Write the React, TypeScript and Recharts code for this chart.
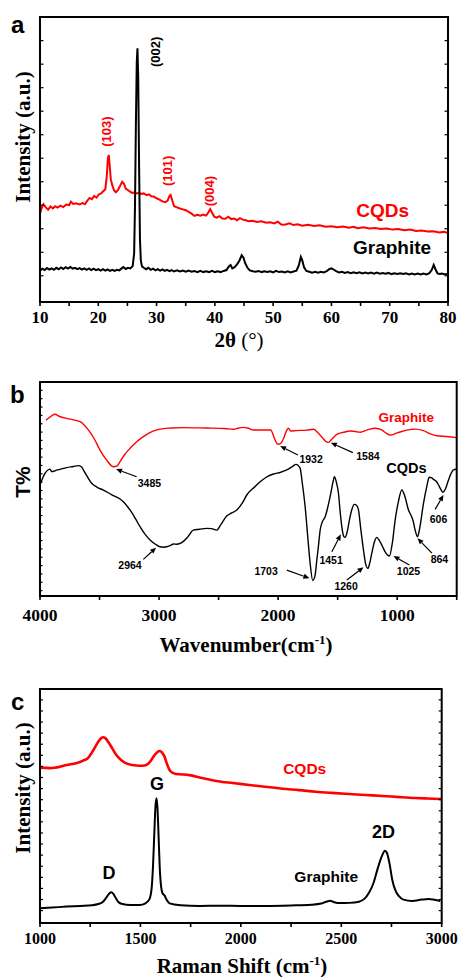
import React from 'react';
import { LineChart, Line, XAxis, YAxis, ReferenceLine, ReferenceDot } from 'recharts';

const SERIF = '"Liberation Serif", "Times New Roman", serif';
const SANS = '"Liberation Sans", Arial, sans-serif';
const RED = '#ff0000';

// ---------- Panel a: XRD ----------
const xrdGraphite: [number, number][] = [
  [10, 11.0], [10.4, 11.7], [10.8, 11.2], [11.2, 11.9], [11.6, 11.4], [12, 11.8], [12.4, 11.3], [12.8, 12.0], [13.2, 11.5], [13.6, 12.1],
  [14, 11.6], [14.4, 12.2], [14.8, 11.7], [15.2, 12.3], [15.6, 11.7], [16, 12.0], [16.4, 11.5], [16.8, 11.9], [17.2, 11.4], [17.6, 11.8],
  [18, 11.3], [18.4, 11.8], [18.8, 11.2], [19.2, 11.7], [19.6, 11.2], [20, 11.5], [20.4, 11.0], [20.8, 11.5], [21.2, 11.0], [21.6, 11.4],
  [22, 10.9], [22.4, 11.3], [22.8, 10.9], [23.2, 11.3], [23.6, 11.1], [24, 11.8], [24.3, 12.3], [24.7, 11.6], [25.1, 12.0], [25.5, 11.8],
  [25.9, 12.6], [26.15, 17], [26.3, 34], [26.45, 62], [26.6, 84], [26.72, 89], [26.85, 79], [27.0, 48], [27.15, 22], [27.3, 14.5],
  [27.5, 12.5], [27.8, 12.0], [28.2, 11.5], [28.6, 12.0], [29, 11.3], [29.4, 11.7], [29.8, 11.1], [30.2, 11.5], [30.6, 11.0], [31, 11.4],
  [31.4, 10.9], [31.8, 11.3], [32.2, 10.8], [32.6, 11.2], [33, 10.7], [33.5, 11.1], [34, 10.7], [34.5, 11.0], [35, 10.6], [35.5, 11.0],
  [36, 10.6], [36.5, 10.9], [37, 10.5], [37.5, 10.9], [38, 10.5], [38.5, 10.8], [39, 10.5], [39.5, 10.9], [40, 10.5], [40.5, 10.8],
  [41, 10.5], [41.5, 10.9], [42, 11.2], [42.4, 12.5], [42.7, 13.0], [43.0, 11.8], [43.4, 12.2], [43.8, 13.2], [44.2, 14.5], [44.6, 16.4],
  [44.9, 15.6], [45.2, 13.6], [45.6, 12.0], [46, 11.1], [46.5, 10.8], [47, 10.6], [47.5, 10.9], [48, 10.5], [48.5, 10.8], [49, 10.5],
  [49.5, 10.8], [50, 10.4], [50.5, 10.9], [51, 10.5], [51.5, 10.7], [52, 10.4], [52.5, 10.8], [53, 10.4], [53.5, 10.7], [54, 11.0],
  [54.4, 12.8], [54.75, 15.8], [55.0, 14.6], [55.3, 12.2], [55.7, 10.9], [56.2, 10.6], [56.7, 10.3], [57.2, 10.6], [57.7, 10.3], [58.2, 10.6],
  [58.7, 10.4], [59.2, 10.8], [59.6, 11.5], [60, 11.8], [60.4, 11.4], [60.8, 10.8], [61.3, 10.4], [61.8, 10.6], [62.3, 10.2], [62.8, 10.5],
  [63.3, 10.1], [63.8, 10.4], [64.3, 10.1], [64.8, 10.4], [65.3, 10.0], [65.8, 10.3], [66.3, 10.0], [66.8, 10.3], [67.3, 9.9], [67.8, 10.3],
  [68.3, 9.9], [68.8, 10.2], [69.3, 9.9], [69.8, 10.2], [70.3, 9.8], [70.8, 10.1], [71.3, 9.8], [71.8, 10.1], [72.3, 9.8], [72.8, 10.1],
  [73.3, 9.7], [73.8, 10.0], [74.3, 9.7], [74.8, 10.0], [75.3, 9.7], [75.8, 10.0], [76.3, 9.7], [76.8, 10.1], [77.2, 11.2], [77.55, 13.0],
  [77.85, 11.5], [78.2, 10.0], [78.6, 9.8], [79, 10.0], [79.4, 9.7], [80, 9.8],
];
const xrdCQDs: [number, number][] = [
  [10, 31], [10.3, 33], [10.6, 34.3], [11, 33.2], [11.4, 32.4], [11.8, 33.5], [12.2, 32.8], [12.6, 33.6], [13, 33.1], [13.5, 33.8],
  [14, 33.3], [14.5, 34.2], [15, 34], [15.3, 35.2], [15.7, 34.4], [16.2, 34.6], [16.8, 34.2], [17.3, 34.8], [17.7, 34.3], [18.1, 35.5],
  [18.5, 36.5], [18.9, 36.1], [19.3, 37.2], [19.7, 36.6], [20.1, 37.8], [20.5, 38.1], [20.9, 39], [21.2, 39.5], [21.45, 44], [21.65, 50.5],
  [21.8, 51.6], [21.95, 48], [22.15, 43], [22.4, 41], [22.7, 39.2], [23, 38.5], [23.4, 39.3], [23.8, 41], [24.1, 42.2], [24.4, 41.5],
  [24.7, 39.8], [25, 39.4], [25.4, 38.8], [25.8, 38.3], [26.2, 38.4], [26.6, 38.1], [27, 38.3], [27.4, 37.9], [27.8, 38.1], [28.3, 37.5],
  [28.7, 37.8], [29.1, 37.1], [29.5, 37.0], [30, 36.4], [30.5, 35.9], [31, 35.3], [31.5, 35], [31.9, 35.6], [32.2, 37.2], [32.4, 37.6],
  [32.7, 35.6], [33, 33.6], [33.5, 33.2], [34, 32.8], [34.5, 32.5], [35, 32.2], [35.5, 31.6], [36, 31], [36.5, 30.2], [37, 30.6],
  [37.5, 30.3], [38, 30.7], [38.5, 30.3], [38.9, 31.5], [39.2, 32.6], [39.5, 31.4], [39.9, 29.9], [40.3, 29.6], [40.8, 30.1], [41.3, 29.3],
  [41.8, 29.2], [42.3, 29.9], [42.8, 29.1], [43.3, 29.3], [43.8, 28.7], [44.3, 29.4], [44.8, 28.9], [45.3, 28.7], [45.8, 28.3], [46.5, 28.5],
  [47.2, 28.1], [48, 28.3], [48.8, 27.8], [49.5, 28], [50.2, 27.6], [50.8, 28.2], [51.4, 27.2], [52, 27.1], [52.8, 27.6], [53.5, 27],
  [54.2, 27.3], [55, 26.8], [56, 27.1], [57, 26.7], [58, 26.9], [59, 26.4], [60, 26.6], [61, 26.2], [62, 26.5], [63, 26.1],
  [63.8, 26.4], [64.5, 25.9], [65.5, 26.2], [66.5, 25.8], [67.5, 26], [68.5, 25.6], [69.5, 25.8], [70.5, 25.4], [71.5, 25.6], [72.5, 25.2],
  [73.5, 25.4], [74.5, 24.9], [75.5, 25.1], [76.5, 24.7], [77.5, 24.8], [78.5, 24.4], [79.3, 24.6], [80, 24.2],
];
const xrdXDomain = [10, 80];
const xrdXTicks = [10, 15, 20, 25, 30, 35, 40, 45, 50, 55, 60, 65, 70, 75, 80];
const xrdXLabels = [10, 20, 30, 40, 50, 60, 70, 80];
const xrdYTicks = [9.2, 17.45, 25.7, 33.95, 42.2, 50.45, 58.7, 66.95, 75.2, 83.45, 91.7];
const xrdPeakLabels = [
  { text: '(002)', x: 29.73, y: 87.8, red: false },
  { text: '(103)', x: 21.44, y: 59.8, red: true },
  { text: '(101)', x: 31.84, y: 46.0, red: true },
  { text: '(004)', x: 39.1, y: 38.9, red: true },
];
const xrdNames = [
  { text: 'CQDs', x: 68.8, y: 32.2, red: true },
  { text: 'Graphite', x: 70.4, y: 19.3, red: false },
];

// ---------- Panel b: FTIR ----------
const ftirGraphite: [number, number][] = [
  [3950, 82.2], [3920, 83.5], [3874, 84.9], [3840, 84.0], [3760, 82.8], [3664, 81.5], [3594, 77.6], [3540, 73], [3496, 68.2], [3440, 63.5],
  [3384, 60.4], [3350, 60.8], [3328, 62.8], [3290, 66], [3244, 69], [3190, 72], [3132, 74.5], [3060, 76.8], [2992, 78], [2900, 78.5],
  [2796, 78.7], [2600, 78.5], [2450, 78.3], [2376, 77.9], [2330, 78.5], [2292, 78.8], [2250, 78.4], [2208, 77.6], [2150, 77.6], [2062, 77.6],
  [2050, 76.5], [2030, 73.5], [2010, 71.3], [1997, 70.9], [1975, 71.5], [1955, 73.5], [1935, 76.5], [1913, 78.4], [1894, 77.1], [1850, 77.3],
  [1760, 77.5], [1703, 77.9], [1661, 76], [1620, 73.5], [1590, 71.9], [1577, 71.8], [1550, 73.2], [1507, 75.5], [1450, 76.5], [1395, 77.1],
  [1350, 76.9], [1311, 76.5], [1250, 77.6], [1185, 78.4], [1130, 77.6], [1090, 76], [1059, 75.2], [1000, 76.2], [920, 77.5], [849, 78],
  [780, 77.3], [720, 75.8], [667, 74.9], [583, 74.5], [500, 74],
];
const ftirCQDs: [number, number][] = [
  [3994, 52.7], [3975, 55.5], [3958, 57.3], [3930, 59], [3916, 59.3], [3902, 58.1], [3860, 58.8], [3776, 60], [3720, 60.5], [3678, 60.9],
  [3650, 60.3], [3636, 58.9], [3600, 55.5], [3566, 52.7], [3520, 50.8], [3468, 49.5], [3400, 47.4], [3328, 45.3], [3290, 43.5], [3244, 40.2],
  [3200, 36.3], [3160, 32.4], [3120, 29], [3076, 26.2], [3030, 24.2], [2992, 23], [2960, 22.8], [2936, 23], [2900, 23.8], [2880, 24.3],
  [2850, 24.2], [2810, 24.9], [2760, 27.5], [2712, 30.8], [2660, 31.2], [2600, 31.6], [2560, 31.5], [2516, 30.8], [2480, 33.5], [2432, 37.4],
  [2390, 38.8], [2347, 40.2], [2300, 43.5], [2263, 47.2], [2200, 50.8], [2151, 53.4], [2100, 55.5], [2039, 57], [1980, 57.8], [1927, 58.9],
  [1880, 60.5], [1849, 61.5], [1825, 60.6], [1815, 59.7], [1795, 52], [1773, 41.7], [1750, 27], [1731, 15.3], [1709, 7.2], [1690, 9.5],
  [1675, 16.8], [1660, 24], [1647, 30.8], [1630, 34.5], [1605, 37], [1585, 41], [1563, 46.4], [1540, 53], [1527, 55.7], [1510, 53],
  [1493, 48], [1480, 40], [1465, 32.4], [1450, 28], [1437, 27.4], [1420, 30], [1401, 35.5], [1380, 40.5], [1361, 42.8], [1340, 42.3],
  [1325, 40.2], [1305, 31], [1283, 21.5], [1265, 15], [1246, 12.9], [1230, 15.5], [1213, 20], [1190, 25.5], [1171, 27.4], [1150, 26],
  [1129, 23.8], [1100, 20.5], [1065, 18.7], [1040, 25], [1017, 35.5], [990, 44], [961, 49.5], [935, 46.5], [905, 40.2], [880, 37.3],
  [868, 35.5], [850, 31], [829, 27.7], [810, 32], [779, 43.3], [750, 51.5], [731, 55.5], [710, 55.2], [695, 54.5], [670, 53.5],
  [653, 51.9], [630, 49.5], [616, 48.5], [595, 50], [569, 54.2], [545, 57.5], [527, 58.9], [504, 59.2],
];
const ftirXDomain = [500, 4000];
const ftirXTicks = [4000, 3500, 3000, 2500, 2000, 1500, 1000, 500];
const ftirXLabels = [4000, 3000, 2000, 1000];
const ftirYTicks = [2.5, 6.4, 10.3, 14.2, 18.1, 22.0, 25.9, 29.8, 33.7, 37.6, 41.5, 45.4, 49.3, 53.2, 57.1, 61.0, 64.9, 68.8, 72.7, 76.6, 80.5, 84.4, 88.3, 92.2, 96.1];
const ftirPeakLabels = [
  { text: '3485', x: 3081, y: 52.7 }, { text: '2964', x: 3244, y: 14.5 }, { text: '1932', x: 1723, y: 63.9 },
  { text: '1584', x: 1246, y: 65.4 }, { text: '1703', x: 2101, y: 11.8 }, { text: '1451', x: 1555, y: 16.5 },
  { text: '1260', x: 1429, y: 4.8 }, { text: '1025', x: 905, y: 11.8 }, { text: '864', x: 645, y: 17.3 },
  { text: '606', x: 653, y: 36 },
];
const ftirArrows = [
  { x1: 3188, y1: 55.7, x2: 3361, y2: 59.3 }, { x1: 3132, y1: 17.1, x2: 3025, y2: 22.6 },
  { x1: 1834, y1: 65.9, x2: 1983, y2: 70.1 }, { x1: 1372, y1: 67, x2: 1557, y2: 71.6 },
  { x1: 1927, y1: 12.1, x2: 1737, y2: 8.3 }, { x1: 1549, y1: 20.7, x2: 1473, y2: 28.8 },
  { x1: 1423, y1: 7.5, x2: 1283, y2: 13.4 }, { x1: 897, y1: 14.5, x2: 1031, y2: 18.7 },
  { x1: 708, y1: 20, x2: 829, y2: 27 }, { x1: 681, y1: 40.5, x2: 611, y2: 47.2 },
];
const ftirNames = [
  { text: 'Graphite', x: 923, y: 83.8, red: true, size: 13.5 },
  { text: 'CQDs', x: 923, y: 60, red: false, size: 14.5 },
];

// ---------- Panel c: Raman ----------
const ramanCQDs: [number, number][] = [
  [1000, 66.4], [1050, 66.2], [1100, 66.8], [1132, 67.5], [1180, 68.3], [1215, 69.4], [1240, 70.6], [1256, 72.5], [1275, 75.3], [1290, 77.5],
  [1305, 79], [1314, 79.4], [1325, 79], [1339, 77.5], [1360, 74.6], [1380, 71.8], [1405, 69.6], [1430, 68.2], [1460, 67.5], [1496, 67.2],
  [1520, 67.3], [1537, 67.9], [1555, 69.8], [1571, 71.8], [1585, 73.1], [1596, 73.5], [1608, 72.8], [1620, 71.1], [1632, 68], [1645, 65.4],
  [1660, 64.2], [1678, 63.7], [1744, 63.2], [1800, 62.1], [1877, 60.7], [1960, 59.8], [2042, 59], [2120, 58.2], [2207, 57.4], [2290, 56.8],
  [2373, 56.1], [2450, 55.6], [2538, 55.1], [2620, 54.7], [2704, 54.3], [2790, 53.8], [2869, 53.4], [2930, 53.2], [3000, 53],
];
const ramanGraphite: [number, number][] = [
  [1000, 6.3], [1060, 6.6], [1132, 7], [1200, 7.3], [1260, 7.6], [1290, 8.1], [1314, 9.1], [1330, 10.8], [1345, 12.6], [1355, 13.1],
  [1365, 12.4], [1375, 11], [1390, 9], [1410, 8.1], [1450, 7.7], [1496, 7.7], [1525, 8.4], [1545, 10.2], [1556, 15], [1563, 25],
  [1569, 38], [1575, 50], [1580, 53.3], [1585, 49], [1590, 38], [1596, 24], [1603, 15.5], [1610, 12.7], [1620, 11.8], [1630, 10],
  [1645, 8.4], [1700, 7.6], [1794, 7.3], [1900, 7.4], [2000, 7.3], [2125, 7.3], [2250, 7.5], [2350, 7.8], [2400, 8.3], [2425, 9.1],
  [2445, 9.5], [2465, 8.9], [2490, 8.5], [2540, 8.6], [2588, 9.1], [2615, 10.3], [2638, 12.9], [2660, 17], [2679, 22.6], [2695, 27],
  [2704, 29], [2717, 30.9], [2727, 30], [2740, 25.5], [2754, 18.4], [2770, 13.8], [2787, 11.5], [2810, 10], [2853, 9.4], [2900, 10],
  [2936, 10.3], [2965, 9.9], [2993, 9.4],
];
const ramanXDomain = [1000, 3000];
const ramanXTicks = [1000, 1250, 1500, 1750, 2000, 2250, 2500, 2750, 3000];
const ramanXLabels = [1000, 1500, 2000, 2500, 3000];
const ramanYTicks = [5.3, 10.04, 14.78, 19.52, 24.26, 29.0, 33.74, 38.48, 43.22, 47.96, 52.7, 57.44, 62.18, 66.92, 71.66, 76.4, 81.14, 85.88, 90.62, 95.36];
const ramanLabels = [
  { text: 'CQDs', x: 2318, y: 66.2, red: true, size: 15.5 },
  { text: 'G', x: 1583, y: 59.8, red: false, size: 18 },
  { text: 'D', x: 1344, y: 21.5, red: false, size: 18 },
  { text: '2D', x: 2710, y: 39, red: false, size: 18 },
  { text: 'Graphite', x: 2425, y: 19.7, red: false, size: 15.5 },
];

const Y_DOMAIN = [0, 100];

// layout of the three plot boxes on the page (page pixels)
type Box = { left: number; top: number; right: number; bottom: number; chartTop: number; chartHeight: number };
const BOX_A: Box = { left: 40, top: 17, right: 448, bottom: 302, chartTop: 0, chartHeight: 330 };
const BOX_B: Box = { left: 40, top: 382, right: 456.7, bottom: 596, chartTop: 360, chartHeight: 266 };
const BOX_C: Box = { left: 40, top: 689, right: 441.7, bottom: 923, chartTop: 670, chartHeight: 281 };
const PAGE_W = 462;

const marginOf = (b: Box) => ({ top: b.top - b.chartTop, right: PAGE_W - b.right, bottom: 0, left: b.left - 1 });
const xAxisHeightOf = (b: Box) => b.chartTop + b.chartHeight - b.bottom;

const toPts = (arr: [number, number][]) => arr.map(([x, y]) => ({ x, y }));

const makeXTick = (labels: number[], len: number, dy: number, fontSize: number) => (props: any) => {
  const { x, y, payload } = props;
  const v = payload.value;
  return (
    <g>
      <line x1={x} y1={y} x2={x} y2={y + len} stroke="#000" strokeWidth={1.6} />
      {labels.includes(v) && (
        <text x={x} y={y + dy} textAnchor="middle" fontFamily={SERIF} fontWeight="bold" fontSize={fontSize} fill="#000">
          {v}
        </text>
      )}
    </g>
  );
};

const makeYTick = (dir: number, len: number) => (props: any) => (
  <line x1={props.x} y1={props.y} x2={props.x + dir * len} y2={props.y} stroke="#000" strokeWidth={1.2} />
);

const textShape = (text: string, color: string, size: number, rotate: boolean) => (p: any) => {
  const { cx, cy } = p;
  if (typeof cx !== 'number' || typeof cy !== 'number') return <g />;
  return (
    <text
      x={cx}
      y={cy}
      dy="0.36em"
      textAnchor="middle"
      fontFamily={SANS}
      fontWeight="bold"
      fontSize={size}
      fill={color}
      transform={rotate ? `rotate(-90, ${cx}, ${cy})` : undefined}
    >
      {text}
    </text>
  );
};

const ArrowShape = (p: any) => {
  const { x1, y1, x2, y2 } = p;
  if ([x1, y1, x2, y2].some((v) => typeof v !== 'number')) return <g />;
  const ang = Math.atan2(y2 - y1, x2 - x1);
  const L = 6;
  const W = 2.6;
  const bx = x2 - L * Math.cos(ang);
  const by = y2 - L * Math.sin(ang);
  const pts = `${x2},${y2} ${bx + W * Math.sin(ang)},${by - W * Math.cos(ang)} ${bx - W * Math.sin(ang)},${by + W * Math.cos(ang)}`;
  return (
    <g>
      <line x1={x1} y1={y1} x2={bx} y2={by} stroke="#000" strokeWidth={1.2} />
      <polygon points={pts} fill="#000" />
    </g>
  );
};

const axisLine = { stroke: '#000', strokeWidth: 2 };

// closed plot frame (top and right edges) with the inward ticks of the right edge
function Frame({ box, yTicks, tickLen }: { box: Box; yTicks?: number[]; tickLen: number }) {
  const yOf = (v: number) => box.bottom - ((v - Y_DOMAIN[0]) / (Y_DOMAIN[1] - Y_DOMAIN[0])) * (box.bottom - box.top);
  return (
    <g>
      <rect x={box.left} y={box.top} width={box.right - box.left} height={box.bottom - box.top}
        fill="none" stroke="#000" strokeWidth={2} />
      {(yTicks || []).map((t) => (
        <line key={t} x1={box.right} y1={yOf(t)} x2={box.right - tickLen} y2={yOf(t)} stroke="#000" strokeWidth={1.2} />
      ))}
    </g>
  );
}

function PanelA() {
  return (
    <LineChart width={PAGE_W} height={BOX_A.chartHeight} margin={marginOf(BOX_A)}>
      <XAxis type="number" dataKey="x" domain={xrdXDomain} ticks={xrdXTicks} interval={0} allowDataOverflow
        height={xAxisHeightOf(BOX_A)} tickSize={0} tickMargin={0} tickLine={false} axisLine={axisLine}
        tick={makeXTick(xrdXLabels, 4, 21.3, 17)} />
      <YAxis type="number" domain={Y_DOMAIN} ticks={xrdYTicks} interval={0} allowDataOverflow width={1}
        tickSize={0} tickMargin={0} tickLine={false} axisLine={axisLine} tick={makeYTick(1, 3.5)} />
      <Line data={toPts(xrdCQDs)} dataKey="y" type="linear" stroke={RED} strokeWidth={2} dot={false} isAnimationActive={false} />
      <Line data={toPts(xrdGraphite)} dataKey="y" type="linear" stroke="#000" strokeWidth={2} dot={false} isAnimationActive={false} />
      {xrdPeakLabels.map((l) => (
        <ReferenceDot key={l.text} x={l.x} y={l.y} r={0} ifOverflow="visible"
          shape={textShape(l.text, l.red ? RED : '#000', 13, true)} />
      ))}
      {xrdNames.map((l) => (
        <ReferenceDot key={l.text} x={l.x} y={l.y} r={0} ifOverflow="visible"
          shape={textShape(l.text, l.red ? RED : '#000', 19, false)} />
      ))}
    </LineChart>
  );
}

function PanelB() {
  return (
    <LineChart width={PAGE_W} height={BOX_B.chartHeight} margin={marginOf(BOX_B)}>
      <XAxis type="number" dataKey="x" domain={ftirXDomain} reversed ticks={ftirXTicks} interval={0} allowDataOverflow
        height={xAxisHeightOf(BOX_B)} tickSize={0} tickMargin={0} tickLine={false} axisLine={axisLine}
        tick={makeXTick(ftirXLabels, 4, 24.7, 17.5)} />
      <YAxis type="number" domain={Y_DOMAIN} ticks={ftirYTicks} interval={0} allowDataOverflow width={1}
        tickSize={0} tickMargin={0} tickLine={false} axisLine={axisLine} tick={makeYTick(1, 2.5)} />
      <Line data={toPts(ftirGraphite)} dataKey="y" type="monotone" stroke={RED} strokeWidth={1.4} dot={false} isAnimationActive={false} />
      <Line data={toPts(ftirCQDs)} dataKey="y" type="monotone" stroke="#000" strokeWidth={1.4} dot={false} isAnimationActive={false} />
      {ftirArrows.map((a, i) => (
        <ReferenceLine key={'a' + i} segment={[{ x: a.x1, y: a.y1 }, { x: a.x2, y: a.y2 }]} ifOverflow="visible" shape={ArrowShape} />
      ))}
      {ftirPeakLabels.map((l) => (
        <ReferenceDot key={l.text} x={l.x} y={l.y} r={0} ifOverflow="visible"
          shape={textShape(l.text, '#000', 10.5, false)} />
      ))}
      {ftirNames.map((l) => (
        <ReferenceDot key={l.text} x={l.x} y={l.y} r={0} ifOverflow="visible"
          shape={textShape(l.text, l.red ? RED : '#000', l.size, false)} />
      ))}
    </LineChart>
  );
}

function PanelC() {
  return (
    <LineChart width={PAGE_W} height={BOX_C.chartHeight} margin={marginOf(BOX_C)}>
      <XAxis type="number" dataKey="x" domain={ramanXDomain} ticks={ramanXTicks} interval={0} allowDataOverflow
        height={xAxisHeightOf(BOX_C)} tickSize={0} tickMargin={0} tickLine={false} axisLine={axisLine}
        tick={makeXTick(ramanXLabels, 4, 21.3, 16)} />
      <YAxis type="number" domain={Y_DOMAIN} ticks={ramanYTicks} interval={0} allowDataOverflow width={1}
        tickSize={0} tickMargin={0} tickLine={false} axisLine={axisLine} tick={makeYTick(1, 3)} />
      <Line data={toPts(ramanCQDs)} dataKey="y" type="monotone" stroke={RED} strokeWidth={2.6} dot={false} isAnimationActive={false} />
      <Line data={toPts(ramanGraphite)} dataKey="y" type="monotone" stroke="#000" strokeWidth={2} dot={false} isAnimationActive={false} />
      {ramanLabels.map((l) => (
        <ReferenceDot key={l.text} x={l.x} y={l.y} r={0} ifOverflow="visible"
          shape={textShape(l.text, l.red ? RED : '#000', l.size, false)} />
      ))}
    </LineChart>
  );
}

export default function App() {
  return (
    <div style={{ position: 'absolute', left: 0, top: 0, width: PAGE_W, height: 977, background: '#fff', overflow: 'hidden' }}>
      <div style={{ position: 'absolute', left: 0, top: BOX_A.chartTop }}><PanelA /></div>
      <div style={{ position: 'absolute', left: 0, top: BOX_B.chartTop }}><PanelB /></div>
      <div style={{ position: 'absolute', left: 0, top: BOX_C.chartTop }}><PanelC /></div>
      <svg width={PAGE_W} height={977} style={{ position: 'absolute', left: 0, top: 0, pointerEvents: 'none' }}>
        <Frame box={BOX_A} yTicks={xrdYTicks} tickLen={3.5} />
        <Frame box={BOX_B} tickLen={2.5} />
        <Frame box={BOX_C} yTicks={ramanYTicks} tickLen={3} />
        <g fontFamily={SANS} fontWeight="bold" fontSize={24} fill="#000">
          <text x={11} y={33}>a</text>
          <text x={10} y={403}>b</text>
          <text x={11} y={710}>c</text>
        </g>
        <g fontFamily={SERIF} fontWeight="bold" fontSize={21} fill="#000" textAnchor="middle">
          <text x={239} y={347}>2θ <tspan fontWeight="normal">(°)</tspan></text>
          <text x={246} y={652}>Wavenumber(cm<tspan fontSize={13} dy={-8}>-1</tspan><tspan dy={8}>)</tspan></text>
          <text x={242} y={973}>Raman Shift (cm<tspan fontSize={13} dy={-8}>-1</tspan><tspan dy={8}>)</tspan></text>
          <text x={22} y={137} dy="0.36em" transform="rotate(-90, 22, 137)">Intensity (a.u.)</text>
          <text x={22} y={788} dy="0.36em" transform="rotate(-90, 22, 788)">Intensity (a.u.)</text>
        </g>
        <text x={22} y={482} dy="0.36em" textAnchor="middle" transform="rotate(-90, 22, 482)"
          fontFamily={SANS} fontWeight="bold" fontSize={21} fill="#000">T%</text>
      </svg>
    </div>
  );
}
